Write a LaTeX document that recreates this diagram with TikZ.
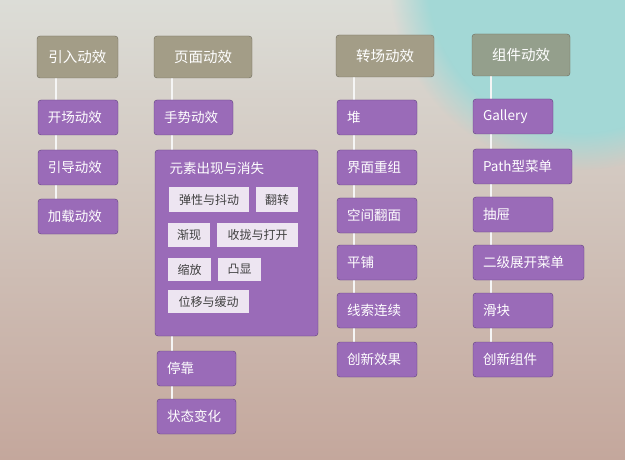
\documentclass[tikz,border=0pt]{standalone}
\usepackage{fontspec}
\usetikzlibrary{fadings}
\setmainfont{Noto Sans CJK SC}
\definecolor{hdr}{HTML}{A39D87}
\definecolor{hdrg}{HTML}{949F8C}
\definecolor{hdrb}{HTML}{6E6A5C}
\definecolor{pur}{HTML}{9A6BB8}
\definecolor{purb}{HTML}{5E3F7E}
\definecolor{tagbg}{HTML}{EDE5F1}
\definecolor{bgtop}{HTML}{DCDDD7}
\definecolor{bgbot}{HTML}{C4A79C}
\definecolor{teal}{HTML}{A3D8D6}
\tikzset{
 hbox/.style={draw=hdrb,fill=hdr,rounded corners=3pt,text=white,font=\fontsize{14.5}{16}\selectfont},
 pbox/.style={draw=purb,fill=pur,rounded corners=3pt,text=white,font=\fontsize{13.5}{15}\selectfont,align=left,inner xsep=10pt,inner ysep=0pt,minimum height=35pt},
 tag/.style={fill=tagbg,text=black!75,font=\fontsize{12}{13}\selectfont,inner sep=0pt},
 conn/.style={draw=white!92!gray,line width=1.6pt}
}
\begin{document}
\begin{tikzpicture}[x=1pt,y=-1pt]
\useasboundingbox (0,0) rectangle (625,460);
\shade[top color=bgtop,bottom color=bgbot] (0,0) rectangle (625,460);
\fill[teal,path fading=circle with fuzzy edge 20 percent] (580,-20) circle (190);
% connectors
\coordinate (c1t) at (56,78); \coordinate (c1b) at (56,199);
\coordinate (c2t) at (172,78); \coordinate (c2b) at (172,399);
\coordinate (c3t) at (354,77); \coordinate (c3b) at (354,342);
\coordinate (c4t) at (491,76); \coordinate (c4b) at (491,342);
\draw[conn] (c1t)--(c1b); \draw[conn] (c2t)--(c2b);
\draw[conn] (c3t)--(c3b); \draw[conn] (c4t)--(c4b);
% headers
\node[hbox,minimum width=81pt,minimum height=42pt] (h1) at (77.5,57) {引入动效};
\node[hbox,minimum width=98pt,minimum height=42pt] (h2) at (203,57) {页面动效};
\node[hbox,minimum width=98pt,minimum height=42pt] (h3) at (385,56) {转场动效};
\node[hbox,fill=hdrg,minimum width=98pt,minimum height=42pt] (h4) at (521,55) {组件动效};
% col1
\node[pbox,text width=60pt] (a1) at (78,117.5) {开场动效};
\node[pbox,text width=60pt] (a2) at (78,167.5) {引导动效};
\node[pbox,text width=60pt] (a3) at (78,216.5) {加载动效};
% col2
\node[pbox,text width=59pt] (b1) at (193.5,117.5) {手势动效};
\node[pbox,text width=143pt,minimum height=186pt] (b2) at (236.5,243) {};
\node[anchor=west,text=white,font=\fontsize{13.5}{15}\selectfont] (b2t) at (166,168) {元素出现与消失};
\node[tag,minimum width=80pt,minimum height=25pt] (t1) at (209,199.5) {弹性与抖动};
\node[tag,minimum width=42pt,minimum height=25pt] (t2) at (277,199.5) {翻转};
\node[tag,minimum width=42pt,minimum height=24pt] (t3) at (189,235) {渐现};
\node[tag,minimum width=81pt,minimum height=24pt] (t4) at (257.5,235) {收拢与打开};
\node[tag,minimum width=43pt,minimum height=23pt] (t5) at (189.5,269.5) {缩放};
\node[tag,minimum width=43pt,minimum height=23pt] (t6) at (239.5,269.5) {凸显};
\node[tag,minimum width=81pt,minimum height=23pt] (t7) at (208.5,301.5) {位移与缓动};
\node[pbox,text width=59pt] (b3) at (196.5,368.5) {停靠};
\node[pbox,text width=59pt] (b4) at (196.5,416.5) {状态变化};
% col3
\node[pbox,text width=60pt] (c1) at (377,117.5) {堆};
\node[pbox,text width=60pt] (c2) at (377,167.5) {界面重组};
\node[pbox,text width=60pt] (c3) at (377,215.5) {空间翻面};
\node[pbox,text width=60pt] (c4) at (377,262.5) {平铺};
\node[pbox,text width=60pt] (c5) at (377,310.5) {线索连续};
\node[pbox,text width=60pt] (c6) at (377,359.5) {创新效果};
% col4
\node[pbox,text width=60pt] (d1) at (513,116.5) {Gallery};
\node[pbox,text width=79pt] (d2) at (522.5,166.5) {Path型菜单};
\node[pbox,text width=60pt] (d3) at (513,214.5) {抽屉};
\node[pbox,text width=91pt] (d4) at (528.5,262.5) {二级展开菜单};
\node[pbox,text width=60pt] (d5) at (513,310.5) {滑块};
\node[pbox,text width=60pt] (d6) at (513,359.5) {创新组件};
\end{tikzpicture}
\end{document}
